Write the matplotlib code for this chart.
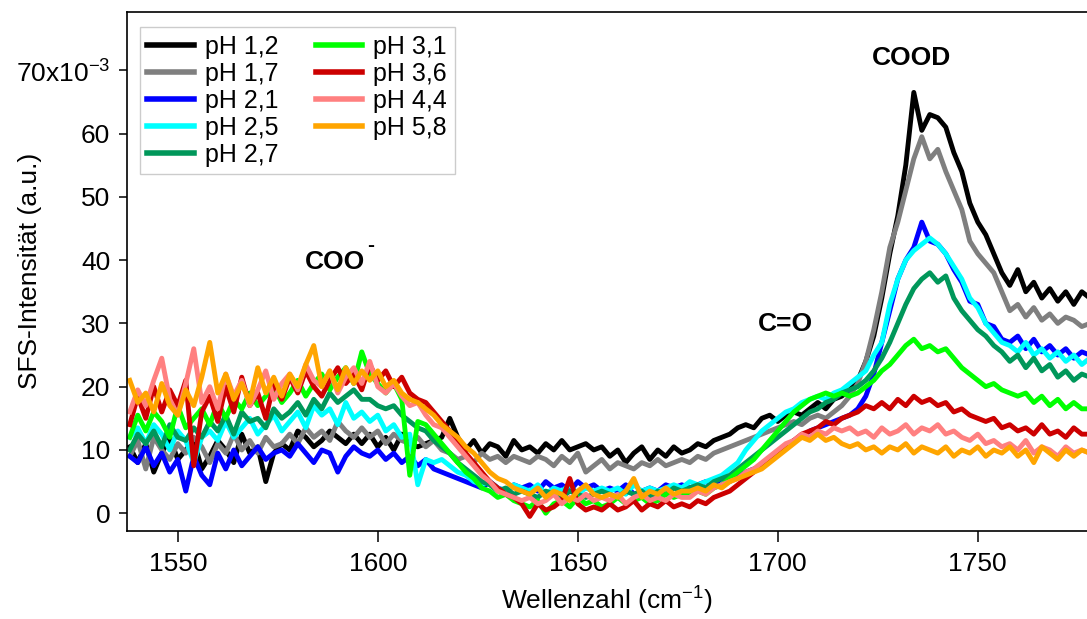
import numpy as np
import matplotlib
matplotlib.use('Agg')
import matplotlib.pyplot as plt

plt.rcParams['font.family'] = ['Liberation Sans', 'DejaVu Sans']
plt.rcParams['mathtext.fontset'] = 'custom'
plt.rcParams['mathtext.rm'] = 'Liberation Sans'
plt.rcParams['mathtext.bf'] = 'Liberation Sans:bold'

# wavenumber grid, cm^-1 (one reading every 2 cm^-1)
wn = np.arange(1538, 1779, 2)

# SFS intensity in units of 1e-3 a.u.
ph12 = [10.5, 8.0, 11.0, 6.5, 9.5, 12.0, 8.5, 10.0, 11.5, 7.0,
        9.0, 11.5, 10.0, 8.0, 12.5, 9.5, 10.5, 5.0, 9.5, 11.0,
        10.0, 13.0, 12.0, 10.5, 11.5, 13.0, 12.0, 11.0, 12.5, 11.0,
        12.5, 10.5, 12.0, 10.0, 12.5, 11.0, 10.5, 11.0, 11.5, 12.0,
        15.0, 12.0, 10.0, 11.5, 9.5, 11.0, 10.5, 9.0, 11.5, 10.0,
        10.5, 9.5, 11.0, 10.0, 11.5, 10.0, 10.5, 11.0, 10.0, 10.5,
        9.0, 10.0, 8.0, 9.5, 10.5, 8.5, 10.0, 9.0, 10.5, 9.5,
        10.0, 11.0, 10.5, 11.5, 12.0, 12.5, 13.5, 14.0, 13.5, 15.0,
        15.5, 14.5, 15.5, 16.0, 15.5, 16.5, 17.5, 16.5, 18.0, 18.5,
        19.5, 21.0, 24.0, 28.0, 34.0, 41.0, 47.0, 55.0, 66.5, 60.5,
        63.0, 62.5, 61.0, 57.0, 54.0, 49.0, 46.0, 44.0, 41.0, 38.0,
        36.0, 38.5, 35.0, 36.5, 34.0, 35.5, 33.5, 35.0, 33.0, 35.0,
        34.0]
ph17 = [9.0, 11.5, 7.0, 12.0, 10.0, 8.5, 11.0, 9.5, 12.0, 10.5,
        8.0, 11.0, 9.5, 12.5, 10.0, 11.5, 9.5, 12.0, 10.5, 11.0,
        12.5, 11.0, 13.5, 12.0, 13.0, 11.5, 14.5, 13.0, 12.0, 13.5,
        12.0, 13.0, 11.0, 12.5, 11.5, 11.0, 12.0, 10.5, 11.5, 10.0,
        9.5, 8.5, 9.0, 8.0, 9.5, 8.5, 9.0, 8.0, 9.0, 8.5,
        8.0, 9.0, 8.5, 7.5, 9.0, 8.0, 9.5, 6.5, 7.5, 8.5,
        7.0, 8.0, 7.5, 7.0, 8.0, 7.5, 8.5, 7.5, 8.0, 8.5,
        8.0, 9.0, 8.5, 9.5, 10.0, 10.5, 11.0, 11.5, 12.0, 12.5,
        13.0, 13.5, 14.0, 14.5, 14.0, 15.0, 15.5, 15.0, 16.0, 17.0,
        18.5, 20.5, 24.0, 29.0, 35.0, 42.0, 46.0, 51.0, 56.0, 59.5,
        56.0, 57.5, 54.0, 51.0, 48.0, 43.0, 41.0, 39.5, 38.0, 35.0,
        32.0, 33.0, 31.0, 32.5, 30.5, 31.5, 30.0, 31.0, 30.5, 29.5,
        30.0]
ph21 = [9.0, 8.0, 10.5, 7.5, 9.5, 6.5, 8.5, 3.5, 9.0, 6.0,
        4.5, 9.5, 7.0, 10.0, 7.5, 9.0, 10.5, 8.5, 9.5, 10.0,
        9.0, 11.0, 9.5, 8.0, 10.0, 9.5, 6.5, 9.0, 10.5, 9.5,
        9.0, 10.0, 8.5, 9.5, 8.0, 9.0, 7.5, 8.5, 7.0, 6.5,
        6.0, 5.5, 5.0, 4.5, 4.0, 5.0, 4.0, 3.5, 4.5, 4.0,
        4.5, 3.5, 5.0, 4.0, 4.5, 3.5, 5.0, 4.0, 4.5, 3.5,
        4.0, 3.5, 4.5, 3.0, 3.5, 4.0, 3.5, 4.5, 4.0, 4.5,
        4.0, 4.5, 5.0, 4.5, 5.5, 5.0, 6.0, 6.5, 7.0, 7.5,
        8.5, 9.5, 10.5, 11.5, 12.0, 13.0, 13.5, 14.0, 14.5, 15.0,
        15.5, 16.5, 18.5, 22.0, 27.0, 32.0, 37.0, 40.0, 42.0, 46.0,
        43.0, 42.5, 41.0, 38.5, 36.5, 33.5, 33.0, 30.0, 29.5, 27.5,
        27.0, 28.0, 26.0, 27.5, 25.5, 26.5, 25.0, 26.0, 24.5, 25.5,
        25.0]
ph25 = [12.0, 13.5, 11.0, 14.0, 12.5, 10.0, 13.0, 11.5, 8.0, 12.0,
        13.0, 11.5, 14.5, 12.0, 13.5, 15.0, 12.5, 14.0, 15.5, 13.0,
        14.5, 16.0, 13.5, 17.0, 15.5, 16.5, 14.0, 17.5, 15.0, 16.0,
        14.5, 15.5, 13.0, 14.0, 12.0, 12.5, 4.5, 8.5, 8.0, 8.5,
        7.5, 6.5, 6.0, 5.0, 4.5, 5.0, 4.0, 3.5, 4.5, 4.0,
        3.5, 4.5, 3.0, 4.0, 3.5, 4.5, 3.0, 4.0, 3.5, 4.0,
        3.5, 4.0, 3.0, 4.5, 3.5, 4.0, 3.5, 4.0, 4.5, 4.0,
        5.0, 4.5, 5.0, 5.5, 6.0, 7.0, 8.0, 10.0, 11.5, 13.0,
        14.0, 15.0, 16.0, 16.5, 17.5, 18.0, 18.5, 18.0, 19.0, 19.5,
        20.5, 21.5, 22.5, 25.0, 27.0, 33.0, 37.0, 40.0, 41.5, 42.5,
        43.5, 42.5, 41.0, 39.0, 37.0, 34.0, 32.5, 30.0, 28.5, 27.0,
        26.5, 25.5, 27.0, 25.0, 26.0, 24.5, 25.5, 24.0, 25.0, 23.5,
        24.5]
ph27 = [10.0, 12.5, 11.0, 13.0, 10.5, 14.0, 12.0, 11.5, 13.5, 12.0,
        14.5, 13.0, 15.5, 12.5, 16.0, 14.5, 15.0, 13.5, 16.5, 15.0,
        16.0, 17.5, 15.5, 18.0, 16.5, 19.0, 17.5, 18.5, 19.5, 18.0,
        18.0, 17.0, 16.5, 17.0, 15.5, 14.5, 13.5, 13.0, 11.5, 10.5,
        9.5, 8.0, 7.0, 6.0, 5.0, 4.5, 3.5, 4.0, 3.0, 3.5,
        3.0, 2.5, 3.5, 3.0, 2.5, 3.5, 3.0, 2.5, 3.0, 3.5,
        3.0, 2.5, 3.5, 3.0, 3.5, 2.5, 3.5, 3.0, 4.0, 3.5,
        4.0, 4.5, 4.0, 5.0, 5.5, 6.0, 7.0, 8.0, 9.0, 10.0,
        11.0, 12.0, 13.0, 14.0, 15.0, 16.0, 16.5, 17.5, 18.0, 19.0,
        19.5, 20.0, 21.0, 22.5, 24.5, 27.0, 30.0, 33.0, 35.5, 37.0,
        38.0, 36.5, 37.5, 34.0, 32.0, 30.5, 29.0, 28.0, 26.5, 25.5,
        24.0, 25.0, 23.0, 24.5, 22.5, 23.5, 21.5, 22.5, 21.0, 22.0,
        21.5]
ph31 = [12.0, 15.5, 13.0, 16.0, 14.5, 12.0, 17.0, 13.5, 15.0, 16.5,
        14.0, 17.5, 15.0, 18.0, 16.5, 19.0, 17.0, 18.5, 20.0, 17.5,
        19.0, 21.0, 18.5, 20.5, 22.0, 19.5, 21.5, 23.0, 20.5, 25.5,
        22.0, 20.5, 19.0, 20.5, 18.0, 6.0, 14.5, 14.0, 12.5, 11.0,
        9.5, 8.0, 6.5, 5.5, 4.0, 3.5, 2.5, 3.0, 2.0, 1.5,
        1.0, 2.0, 0.0, 1.5, 2.0, 1.0, 2.5, 1.5, 2.0, 1.0,
        1.5, 2.5, 1.5, 2.0, 2.5, 1.5, 2.0, 3.0, 2.5, 3.0,
        3.0, 3.5, 3.0, 4.0, 4.5, 5.5, 6.5, 7.5, 8.5, 10.0,
        11.5, 13.0, 14.5, 16.0, 17.0, 18.0, 18.5, 19.0, 18.5, 19.0,
        18.5, 19.0, 20.0, 21.0, 22.5, 23.5, 25.0, 26.5, 27.5, 26.0,
        26.5, 25.5, 26.0, 24.5, 23.0, 22.0, 21.0, 20.0, 20.5, 19.5,
        19.0, 18.5, 19.0, 17.5, 18.5, 17.0, 18.0, 16.5, 17.5, 16.5,
        16.5]
ph36 = [14.0, 18.5, 15.0, 20.0, 16.0, 19.5, 17.0, 21.0, 7.5, 16.0,
        18.5, 14.5, 20.0, 16.0, 21.5, 17.0, 19.0, 15.0, 20.5, 18.0,
        21.5, 19.0, 22.5, 20.0, 18.5, 21.0, 23.0, 20.5, 22.0, 19.5,
        23.5, 21.0, 22.5, 20.0, 21.5, 19.0, 18.0, 17.5, 16.0, 14.5,
        13.0, 11.0, 9.5, 8.0, 6.5, 5.0, 4.0, 3.0, 2.5, 1.5,
        -0.5, 1.5, 0.5, 1.0, 2.0, 5.5, 1.5, 0.5, 1.0, 0.5,
        1.5, 0.5, 1.0, 2.0, 0.5, 1.5, 1.0, 2.0, 1.0, 1.5,
        1.0, 2.0, 1.5, 2.5, 3.0, 3.5, 4.5, 5.5, 6.5, 7.5,
        8.5, 9.5, 10.5, 11.5, 12.5, 13.0, 13.5, 14.5, 14.0, 15.0,
        15.5, 16.0, 17.0, 16.5, 17.5, 16.5, 18.0, 17.0, 18.5, 17.5,
        18.0, 17.0, 17.5, 16.0, 16.5, 15.5, 15.0, 14.5, 15.0, 13.5,
        14.0, 13.0, 13.5, 12.5, 14.0, 12.5, 13.0, 12.0, 13.5, 12.5,
        12.5]
ph44 = [16.0, 19.5, 17.0, 21.0, 24.5, 18.0, 15.5, 20.5, 26.0, 17.5,
        20.0, 16.5, 22.0, 18.5, 21.0, 17.0, 19.5, 22.5, 18.0, 20.5,
        22.0, 19.5, 23.5, 21.0, 20.0, 22.5, 19.0, 21.5, 23.0, 20.5,
        24.0, 20.0, 19.0, 20.5, 18.5, 17.0, 17.5, 15.5, 14.0, 13.5,
        12.0, 10.5, 9.0, 7.5, 6.0, 5.0, 3.5, 3.0, 2.5, 2.0,
        2.5, 1.5, 2.0, 3.0, 1.5, 2.5, 2.0, 3.0, 2.0, 2.5,
        2.0, 3.0, 1.5, 2.5, 3.0, 2.0, 2.5, 2.0, 3.0, 2.5,
        2.5, 3.5, 3.0, 4.0, 4.5, 5.0, 5.5, 6.5, 7.0, 8.0,
        9.0, 10.0, 11.0, 11.5, 12.5, 12.0, 13.0, 12.5, 13.5, 13.0,
        13.5, 12.5, 13.0, 12.0, 13.5, 12.5, 13.0, 14.0, 12.5, 13.5,
        13.0, 14.0, 12.5, 13.0, 12.0, 11.5, 12.5, 11.0, 11.5, 10.5,
        11.0, 10.0, 11.5, 9.5, 10.5, 10.0, 9.0, 10.5, 9.5, 10.0,
        9.5]
ph58 = [21.0, 17.5, 19.0, 16.0, 20.5, 17.0, 15.5, 19.5, 17.0, 21.5,
        27.0, 19.0, 22.0, 18.0, 20.5, 17.5, 23.0, 19.0, 21.5, 18.5,
        22.0, 20.0, 23.5, 26.5, 20.0, 22.5, 19.5, 23.0, 20.5, 22.5,
        21.0, 22.5, 20.0, 21.0, 19.0, 18.0, 17.5, 16.5, 15.5, 14.0,
        13.0, 12.0, 10.5, 9.5, 8.0, 6.5, 5.5, 5.0, 4.0, 3.5,
        3.0, 4.0, 2.5, 3.5, 3.0, 2.0, 3.5, 4.5, 3.0, 2.5,
        3.0, 2.5, 3.5, 5.5, 2.5, 3.5, 3.0, 4.0, 3.0, 3.5,
        3.5, 4.0, 3.5, 4.5, 4.0, 5.0, 5.5, 6.0, 6.5, 7.0,
        8.0, 9.0, 10.0, 11.0, 12.0, 11.5, 12.5, 11.5, 12.0, 11.0,
        10.5, 11.0, 10.0, 10.5, 9.5, 10.5, 10.0, 11.0, 9.5, 10.5,
        10.0, 9.5, 10.5, 9.0, 10.0, 9.5, 10.5, 9.0, 10.0, 9.5,
        10.5, 9.0, 10.0, 8.0, 10.5, 9.5, 8.5, 10.0, 9.0, 10.0,
        9.5]

series = [ph12, ph17, ph21, ph25, ph27, ph31, ph36, ph44, ph58]
labels = ['pH 1,2', 'pH 1,7', 'pH 2,1', 'pH 2,5', 'pH 2,7',
          'pH 3,1', 'pH 3,6', 'pH 4,4', 'pH 5,8']
colors = ['#000000', '#7f7f7f', '#0000ff', '#00ffff', '#00975a',
          '#00ff00', '#cc0000', '#ff8080', '#ffa500']

yticks = [0, 10, 20, 30, 40, 50, 60, 70]
ytick_labels = ['0', '10', '20', '30', '40', '50', '60', r'70x10$^{-3}$']
xticks = [1550, 1600, 1650, 1700, 1750]

fig = plt.figure(figsize=(10.87, 6.19), dpi=100)
ax = fig.add_axes([0.1168, 0.1422, 0.8832, 0.8384])

for y, lab, col in zip(series, labels, colors):
    ax.plot(wn, y, color=col, lw=3.5, label=lab)

ax.set_xlim(1537.3, 1777.3)
ax.set_ylim(-2.8, 79.2)
ax.set_xticks(xticks)
ax.set_yticks(yticks)
ax.set_yticklabels(ytick_labels)
ax.tick_params(axis='both', labelsize=19, direction='out', width=1.1, colors='black')
ax.tick_params(axis='x', length=8, pad=7)
ax.tick_params(axis='y', length=6, pad=6)
ax.spines['right'].set_visible(False)
for s in ['left', 'top', 'bottom']:
    ax.spines[s].set_linewidth(1.2)

fig.text(607 / 1087, 1 - 600 / 619, r'Wellenzahl (cm$^{-1}$)', fontsize=19,
         ha='center', va='center')
fig.text(30 / 1087, 1 - 271 / 619, 'SFS-Intensität (a.u.)', fontsize=19,
         rotation=90, ha='center', va='center')

ax.text(1589.3, 39.7, 'COO', fontsize=19, fontweight='bold', ha='center', va='center')
ax.text(1598.2, 42.3, '-', fontsize=15, fontweight='bold', ha='center', va='center')
ax.text(1701.8, 29.9, 'C=O', fontsize=19, fontweight='bold', ha='center', va='center')
ax.text(1733.5, 71.9, 'COOD', fontsize=19, fontweight='bold', ha='center', va='center')

leg = ax.legend(loc='upper left', bbox_to_anchor=(0.0135, 0.971), borderaxespad=0,
                ncol=2, fontsize=18, handlelength=1.85, handletextpad=0.45,
                columnspacing=1.5, labelspacing=0.12, borderpad=0.3,
                fancybox=False, framealpha=1, edgecolor='#cccccc')
leg.get_frame().set_linewidth(1.0)
for h in leg.get_lines():
    h.set_linewidth(4.0)

fig.savefig('out.png', dpi=100)
